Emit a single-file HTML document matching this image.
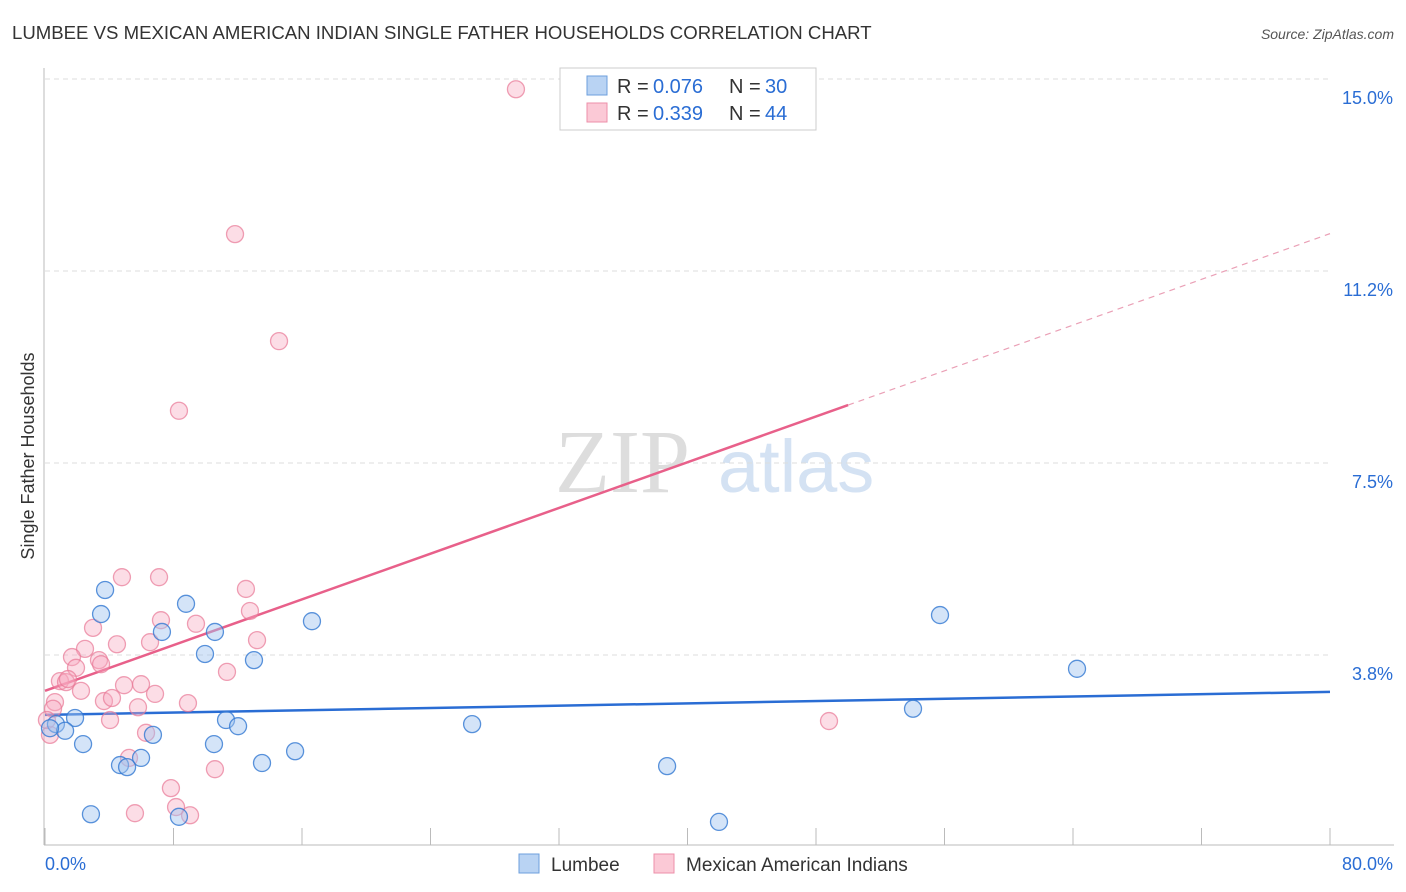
<!DOCTYPE html>
<html><head><meta charset="utf-8"><style>
body{margin:0;background:#fff;font-family:"Liberation Sans",sans-serif;}
svg{display:block}
</style></head><body>
<svg id="c" width="1406" height="892">
<text x="12" y="39" font-size="18.6" fill="#333">LUMBEE VS MEXICAN AMERICAN INDIAN SINGLE FATHER HOUSEHOLDS CORRELATION CHART</text>
<text x="1394" y="39" font-size="14" fill="#555" font-style="italic" text-anchor="end">Source: ZipAtlas.com</text>
<text x="34" y="456" font-size="18" fill="#333" text-anchor="middle" transform="rotate(-90 34 456)">Single Father Households</text>
<text x="555" y="492" font-size="90" fill="#ddd" font-family="Liberation Serif,serif">ZIP</text>
<text x="718" y="492" font-size="74" fill="#d4e2f3">atlas</text>
<g id="grid"></g><g id="axes"></g><g id="lines"></g><g id="pts"></g>
<g>
<rect x="560" y="68" width="256" height="62" fill="#fff" stroke="#ccc"/>
<rect x="587" y="76" width="20" height="19" fill="#b9d3f3" stroke="#6d9fdc"/>
<rect x="587" y="103" width="20" height="19" fill="#fbc9d6" stroke="#ec8fa9"/>
<text y="93" font-size="20" fill="#333"><tspan x="617">R =</tspan><tspan x="653" fill="#2a6dd4">0.076</tspan><tspan x="729">N =</tspan><tspan x="765" fill="#2a6dd4">30</tspan></text>
<text y="120" font-size="20" fill="#333"><tspan x="617">R =</tspan><tspan x="653" fill="#2a6dd4">0.339</tspan><tspan x="729">N =</tspan><tspan x="765" fill="#2a6dd4">44</tspan></text>
</g>
<g>
<rect x="519" y="854" width="20" height="19" fill="#b9d3f3" stroke="#6d9fdc"/>
<text x="551" y="871" font-size="19" fill="#333">Lumbee</text>
<rect x="654" y="854" width="20" height="19" fill="#fbc9d6" stroke="#ec8fa9"/>
<text x="686" y="871" font-size="19" fill="#333">Mexican American Indians</text>
</g>
</svg>
<script>
const lumbeeX=[3.74,3.49,8.78,7.28,10.58,9.96,13.01,16.62,1.87,0.68,1.25,2.37,6.72,11.27,12.02,10.52,15.57,5.98,4.67,5.11,13.51,2.86,8.34,26.59,38.73,41.96,54.04,55.72,64.25,0.31];
const lumbeeY=[5.02,4.55,4.75,4.20,4.20,3.77,3.65,4.41,2.52,2.40,2.27,2.01,2.19,2.48,2.36,2.01,1.87,1.74,1.60,1.56,1.64,0.64,0.59,2.40,1.58,0.49,2.70,4.53,3.48,2.32];
const mexX=[29.32,11.83,14.57,8.34,4.79,7.10,12.51,12.76,7.22,2.99,9.40,4.48,6.54,13.20,2.49,1.68,3.36,3.49,1.93,11.33,0.93,1.31,1.43,4.92,5.98,2.24,6.85,3.67,8.90,4.17,5.79,0.62,0.50,4.05,6.29,5.23,10.58,7.84,8.16,5.60,9.03,48.81,0.31,0.12];
const mexY=[14.80,11.97,9.88,8.52,5.27,5.27,5.04,4.61,4.43,4.28,4.36,3.96,4.00,4.04,3.87,3.71,3.65,3.57,3.50,3.42,3.24,3.22,3.28,3.16,3.18,3.05,2.99,2.85,2.81,2.91,2.73,2.83,2.70,2.48,2.23,1.74,1.52,1.15,0.78,0.66,0.62,2.46,2.19,2.48];
const yTicks=[3.75,7.5,11.25,15.0];
const yTickLabels=["3.8%","7.5%","11.2%","15.0%"];
const xTicks=[0,8,16,24,32,40,48,56,64,72,80];
const lumbeeTrend=[2.58,3.03];
const mexTrend=[3.05,11.98];
const mexSolidEnd=50;
const NS="http://www.w3.org/2000/svg";
const X=v=>45+v/80*1285;
const Y=v=>847-v*51.2;
function mk(tag,attrs,parent){const e=document.createElementNS(NS,tag);for(const k in attrs)e.setAttribute(k,attrs[k]);document.getElementById(parent).appendChild(e);return e;}
yTicks.forEach((t,i)=>{
 const g=mk('line',{x1:45,x2:1330,y1:Y(t),y2:Y(t),stroke:'#ddd','stroke-dasharray':'5,4'},'grid');
 
 
 const l=mk('text',{x:1393,y:Y(t)+25,'font-size':18,fill:'#2a6dd4','text-anchor':'end'},'grid');
 l.textContent=yTickLabels[i];
 
 
});
let a=mk('line',{x1:44,x2:44,y1:68,y2:845,stroke:'#bbb'},'axes');


a=mk('line',{x1:44,x2:1394,y1:845,y2:845,stroke:'#bbb'},'axes');


xTicks.forEach(t=>{const l=mk('line',{x1:X(t),x2:X(t),y1:828,y2:845,stroke:'#bbb'},'axes');
 
 });
let t0=mk('text',{x:45,y:870,'font-size':18,fill:'#2a6dd4'},'axes');t0.textContent='0.0%';


let t1=mk('text',{x:1393,y:870,'font-size':18,fill:'#2a6dd4','text-anchor':'end'},'axes');t1.textContent='80.0%';


function pts(xs,ys,fill,stroke,name){xs.forEach((x,i)=>{const c=mk('circle',{cx:X(x),cy:Y(ys[i]),r:8.5,fill:fill,stroke:stroke,'stroke-width':1.3},'pts');
 
 });}
pts(mexX,mexY,'rgba(248,170,192,0.4)','rgba(232,120,150,0.7)','mexican-american-indian-point');
pts(lumbeeX,lumbeeY,'rgba(160,196,240,0.45)','rgba(50,120,210,0.8)','lumbee-point');
let ln=mk('line',{x1:X(0),y1:Y(lumbeeTrend[0]),x2:X(80),y2:Y(lumbeeTrend[1]),stroke:'#2a6dd4','stroke-width':2.5},'lines');


const my=x=>mexTrend[0]+(mexTrend[1]-mexTrend[0])*x/80;
ln=mk('line',{x1:X(0),y1:Y(my(0)),x2:X(mexSolidEnd),y2:Y(my(mexSolidEnd)),stroke:'#e8608a','stroke-width':2.5},'lines');


ln=mk('line',{x1:X(mexSolidEnd),y1:Y(my(mexSolidEnd)),x2:X(80),y2:Y(my(80)),stroke:'#eaa0b6','stroke-width':1.2,'stroke-dasharray':'6,5'},'lines');


</script>
</body></html>
